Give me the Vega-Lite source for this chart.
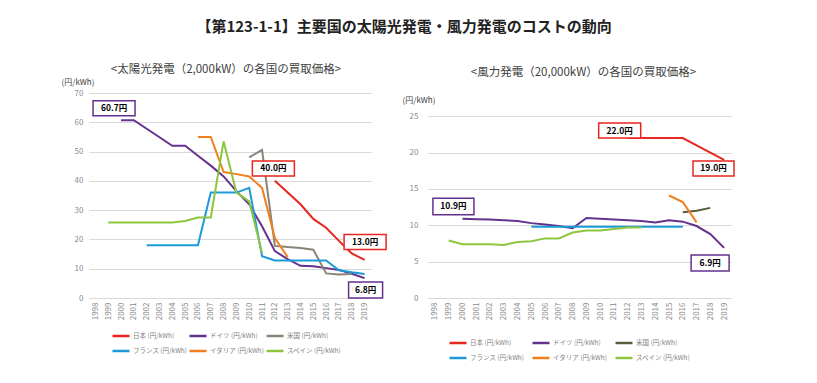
{
  "$schema": "https://vega.github.io/schema/vega-lite/v6.json",
  "background": "white",
  "padding": {"left": 61, "top": 19, "right": 0, "bottom": 0},
  "title": {"text": "【第123-1-1】主要国の太陽光発電・風力発電のコストの動向", "fontSize": 15, "fontWeight": "bold", "color": "#222222", "anchor": "middle", "offset": 29, "dx": 5},
  "config": {
    "font": "Noto Sans CJK JP",
    "view": {"stroke": null},
    "text": {"font": "Noto Sans CJK JP"}
  },
  "spacing": 12,
  "resolve": {"scale": {"color": "independent"}, "legend": {"color": "independent"}},
  "datasets": {
    "solar": [
      {"country": "日本", "year": 2012, "value": 40},
      {"country": "日本", "year": 2013, "value": 36},
      {"country": "日本", "year": 2014, "value": 32},
      {"country": "日本", "year": 2015, "value": 27},
      {"country": "日本", "year": 2016, "value": 24},
      {"country": "日本", "year": 2017, "value": 19.5},
      {"country": "日本", "year": 2018, "value": 15.2},
      {"country": "日本", "year": 2019, "value": 13},
      {"country": "ドイツ", "year": 2000, "value": 60.7},
      {"country": "ドイツ", "year": 2001, "value": 60.7},
      {"country": "ドイツ", "year": 2002, "value": 57.8},
      {"country": "ドイツ", "year": 2003, "value": 54.9},
      {"country": "ドイツ", "year": 2004, "value": 52},
      {"country": "ドイツ", "year": 2005, "value": 52},
      {"country": "ドイツ", "year": 2006, "value": 48.6},
      {"country": "ドイツ", "year": 2007, "value": 45.2},
      {"country": "ドイツ", "year": 2008, "value": 41.5},
      {"country": "ドイツ", "year": 2009, "value": 36.5},
      {"country": "ドイツ", "year": 2010, "value": 32},
      {"country": "ドイツ", "year": 2011, "value": 24.5},
      {"country": "ドイツ", "year": 2012, "value": 16},
      {"country": "ドイツ", "year": 2013, "value": 13.3},
      {"country": "ドイツ", "year": 2014, "value": 11},
      {"country": "ドイツ", "year": 2015, "value": 10.8},
      {"country": "ドイツ", "year": 2016, "value": 10.2},
      {"country": "ドイツ", "year": 2017, "value": 9.6},
      {"country": "ドイツ", "year": 2018, "value": 8.3},
      {"country": "ドイツ", "year": 2019, "value": 6.8},
      {"country": "米国", "year": 2010, "value": 48},
      {"country": "米国", "year": 2011, "value": 50.6},
      {"country": "米国", "year": 2012, "value": 17.8},
      {"country": "米国", "year": 2013, "value": 17.4},
      {"country": "米国", "year": 2014, "value": 17.1},
      {"country": "米国", "year": 2015, "value": 16.5},
      {"country": "米国", "year": 2016, "value": 8.4},
      {"country": "米国", "year": 2017, "value": 8.0},
      {"country": "米国", "year": 2018, "value": 8.2},
      {"country": "フランス", "year": 2002, "value": 18},
      {"country": "フランス", "year": 2003, "value": 18},
      {"country": "フランス", "year": 2004, "value": 18},
      {"country": "フランス", "year": 2005, "value": 18},
      {"country": "フランス", "year": 2006, "value": 18},
      {"country": "フランス", "year": 2007, "value": 36},
      {"country": "フランス", "year": 2008, "value": 36},
      {"country": "フランス", "year": 2009, "value": 36},
      {"country": "フランス", "year": 2010, "value": 37.6},
      {"country": "フランス", "year": 2011, "value": 14.3},
      {"country": "フランス", "year": 2012, "value": 12.8},
      {"country": "フランス", "year": 2013, "value": 12.8},
      {"country": "フランス", "year": 2014, "value": 12.8},
      {"country": "フランス", "year": 2015, "value": 12.8},
      {"country": "フランス", "year": 2016, "value": 12.8},
      {"country": "フランス", "year": 2017, "value": 9.5},
      {"country": "フランス", "year": 2018, "value": 8.8},
      {"country": "フランス", "year": 2019, "value": 8.2},
      {"country": "イタリア", "year": 2006, "value": 55},
      {"country": "イタリア", "year": 2007, "value": 55},
      {"country": "イタリア", "year": 2008, "value": 43},
      {"country": "イタリア", "year": 2009, "value": 42.3},
      {"country": "イタリア", "year": 2010, "value": 41.5},
      {"country": "イタリア", "year": 2011, "value": 37.6},
      {"country": "イタリア", "year": 2012, "value": 20.5},
      {"country": "イタリア", "year": 2013, "value": 14},
      {"country": "スペイン", "year": 1999, "value": 25.8},
      {"country": "スペイン", "year": 2000, "value": 25.8},
      {"country": "スペイン", "year": 2001, "value": 25.8},
      {"country": "スペイン", "year": 2002, "value": 25.8},
      {"country": "スペイン", "year": 2003, "value": 25.8},
      {"country": "スペイン", "year": 2004, "value": 25.8},
      {"country": "スペイン", "year": 2005, "value": 26.3},
      {"country": "スペイン", "year": 2006, "value": 27.5},
      {"country": "スペイン", "year": 2007, "value": 27.5},
      {"country": "スペイン", "year": 2008, "value": 53.5},
      {"country": "スペイン", "year": 2009, "value": 36},
      {"country": "スペイン", "year": 2010, "value": 33},
      {"country": "スペイン", "year": 2011, "value": 15.4}
    ],
    "wind": [
      {"country": "日本", "year": 2012, "value": 22},
      {"country": "日本", "year": 2013, "value": 22},
      {"country": "日本", "year": 2014, "value": 22},
      {"country": "日本", "year": 2015, "value": 22},
      {"country": "日本", "year": 2016, "value": 22},
      {"country": "日本", "year": 2017, "value": 21},
      {"country": "日本", "year": 2018, "value": 20},
      {"country": "日本", "year": 2019, "value": 19},
      {"country": "ドイツ", "year": 2000, "value": 10.9},
      {"country": "ドイツ", "year": 2001, "value": 10.85},
      {"country": "ドイツ", "year": 2002, "value": 10.8},
      {"country": "ドイツ", "year": 2003, "value": 10.7},
      {"country": "ドイツ", "year": 2004, "value": 10.6},
      {"country": "ドイツ", "year": 2005, "value": 10.3},
      {"country": "ドイツ", "year": 2006, "value": 10.1},
      {"country": "ドイツ", "year": 2007, "value": 9.9},
      {"country": "ドイツ", "year": 2008, "value": 9.6},
      {"country": "ドイツ", "year": 2009, "value": 11.0},
      {"country": "ドイツ", "year": 2010, "value": 10.9},
      {"country": "ドイツ", "year": 2011, "value": 10.8},
      {"country": "ドイツ", "year": 2012, "value": 10.7},
      {"country": "ドイツ", "year": 2013, "value": 10.6},
      {"country": "ドイツ", "year": 2014, "value": 10.4},
      {"country": "ドイツ", "year": 2015, "value": 10.7},
      {"country": "ドイツ", "year": 2016, "value": 10.5},
      {"country": "ドイツ", "year": 2017, "value": 9.9},
      {"country": "ドイツ", "year": 2018, "value": 8.8},
      {"country": "ドイツ", "year": 2019, "value": 6.9},
      {"country": "米国", "year": 2016, "value": 11.8},
      {"country": "米国", "year": 2017, "value": 12.0},
      {"country": "米国", "year": 2018, "value": 12.4},
      {"country": "フランス", "year": 2005, "value": 9.8},
      {"country": "フランス", "year": 2006, "value": 9.8},
      {"country": "フランス", "year": 2007, "value": 9.8},
      {"country": "フランス", "year": 2008, "value": 9.8},
      {"country": "フランス", "year": 2009, "value": 9.8},
      {"country": "フランス", "year": 2010, "value": 9.8},
      {"country": "フランス", "year": 2011, "value": 9.8},
      {"country": "フランス", "year": 2012, "value": 9.8},
      {"country": "フランス", "year": 2013, "value": 9.8},
      {"country": "フランス", "year": 2014, "value": 9.8},
      {"country": "フランス", "year": 2015, "value": 9.8},
      {"country": "フランス", "year": 2016, "value": 9.8},
      {"country": "イタリア", "year": 2015, "value": 14.1},
      {"country": "イタリア", "year": 2016, "value": 13.2},
      {"country": "イタリア", "year": 2017, "value": 10.4},
      {"country": "スペイン", "year": 1999, "value": 7.9},
      {"country": "スペイン", "year": 2000, "value": 7.4},
      {"country": "スペイン", "year": 2001, "value": 7.4},
      {"country": "スペイン", "year": 2002, "value": 7.4},
      {"country": "スペイン", "year": 2003, "value": 7.3},
      {"country": "スペイン", "year": 2004, "value": 7.7},
      {"country": "スペイン", "year": 2005, "value": 7.8},
      {"country": "スペイン", "year": 2006, "value": 8.2},
      {"country": "スペイン", "year": 2007, "value": 8.2},
      {"country": "スペイン", "year": 2008, "value": 9.0},
      {"country": "スペイン", "year": 2009, "value": 9.3},
      {"country": "スペイン", "year": 2010, "value": 9.3},
      {"country": "スペイン", "year": 2011, "value": 9.5},
      {"country": "スペイン", "year": 2012, "value": 9.7},
      {"country": "スペイン", "year": 2013, "value": 9.7}
    ],
    "solarLabels": [
      {"label": "60.7円", "year": 2000, "value": 60.7},
      {"label": "40.0円", "year": 2012, "value": 40.0},
      {"label": "13.0円", "year": 2019, "value": 13.0},
      {"label": "6.8円", "year": 2019, "value": 6.8}
    ],
    "windLabels": [
      {"label": "10.9円", "year": 2000, "value": 10.9},
      {"label": "22.0円", "year": 2012, "value": 22.0},
      {"label": "19.0円", "year": 2019, "value": 19.0},
      {"label": "6.9円", "year": 2019, "value": 6.9}
    ]
  },
  "hconcat": [
    {
      "width": 282,
      "height": 205,
      "title": {"text": "<太陽光発電（2,000kW）の各国の買取価格>", "fontSize": 11.5, "fontWeight": "normal", "color": "#404040", "frame": "group", "anchor": "middle", "dx": -4, "offset": 3},
      "encoding": {
        "x": {"field": "year", "type": "quantitative", "scale": {"domain": [1997.5, 2019.5], "nice": false, "zero": false},
          "axis": {"values": [1998,1999,2000,2001,2002,2003,2004,2005,2006,2007,2008,2009,2010,2011,2012,2013,2014,2015,2016,2017,2018,2019], "format": "d", "labelAngle": -90, "labelFontSize": 8, "labelColor": "#8c8c8c", "ticks": false, "grid": false, "domain": true, "domainColor": "#d9d9d9", "title": null, "labelPadding": 4, "labelOverlap": false, "labelFlush": false}},
        "y": {"field": "value", "type": "quantitative", "scale": {"domain": [0, 70], "nice": false},
          "axis": {"values": [0,10,20,30,40,50,60,70], "grid": true, "gridColor": "#d9d9d9", "domain": false, "ticks": false, "labelFontSize": 8, "labelColor": "#8c8c8c", "labelPadding": 6, "title": "(円/kWh)", "titleFontSize": 8, "titleFontWeight": "normal", "titleColor": "#404040", "titleAngle": 0, "titleX": -11.5, "titleY": -11, "titleAlign": "center", "titleBaseline": "middle"}}
      },
      "layer": [
        {
          "data": {"name": "solar"},
          "mark": {"type": "line", "strokeWidth": 2},
          "encoding": {
            "color": {"field": "country", "type": "nominal",
              "scale": {"domain": ["日本", "ドイツ", "米国", "フランス", "イタリア", "スペイン"], "range": ["#E8251F", "#65318E", "#8A8478", "#1A9BD7", "#F07F1E", "#8DC63F"]},
              "legend": {"orient": "none", "legendX": 22, "legendY": 233, "direction": "horizontal", "columns": 3, "title": null, "symbolType": "stroke", "symbolSize": 289, "symbolStrokeWidth": 2.5, "labelFontSize": 6.5, "labelColor": "#7f7f7f", "labelOffset": 2, "columnPadding": -4, "rowPadding": -1, "padding": 0, "gridAlign": "all", "labelExpr": "datum.label + ' (円/kWh)'"}}
          }
        },
        {
          "data": {"name": "solarLabels"},
          "transform": [{"filter": "datum.label === '60.7円'"}],
          "layer": [
            {"mark": {"type": "point", "shape": "M-1,-0.357H1V0.357H-1Z", "size": 1764, "filled": true, "fill": "white", "stroke": "#65318E", "strokeWidth": 1.5, "opacity": 1, "xOffset": -7, "yOffset": -12}},
            {"mark": {"type": "text", "fontWeight": "bold", "fontSize": 8.5, "color": "#000000", "xOffset": -7, "yOffset": -12}, "encoding": {"text": {"field": "label"}}}
          ]
        },
        {
          "data": {"name": "solarLabels"},
          "transform": [{"filter": "datum.label === '40.0円'"}],
          "layer": [
            {"mark": {"type": "point", "shape": "M-1,-0.357H1V0.357H-1Z", "size": 1764, "filled": true, "fill": "white", "stroke": "#E8251F", "strokeWidth": 1.5, "opacity": 1, "xOffset": -1.5, "yOffset": -12.4}},
            {"mark": {"type": "text", "fontWeight": "bold", "fontSize": 8.5, "color": "#000000", "xOffset": -1.5, "yOffset": -12.4}, "encoding": {"text": {"field": "label"}}}
          ]
        },
        {
          "data": {"name": "solarLabels"},
          "transform": [{"filter": "datum.label === '13.0円'"}],
          "layer": [
            {"mark": {"type": "point", "shape": "M-1,-0.357H1V0.357H-1Z", "size": 1764, "filled": true, "fill": "white", "stroke": "#E8251F", "strokeWidth": 1.5, "opacity": 1, "xOffset": 0.5, "yOffset": -18}},
            {"mark": {"type": "text", "fontWeight": "bold", "fontSize": 8.5, "color": "#000000", "xOffset": 0.5, "yOffset": -18}, "encoding": {"text": {"field": "label"}}}
          ]
        },
        {
          "data": {"name": "solarLabels"},
          "transform": [{"filter": "datum.label === '6.8円'"}],
          "layer": [
            {"mark": {"type": "point", "shape": "M-1,-0.47H1V0.47H-1Z", "size": 1156, "filled": true, "fill": "white", "stroke": "#65318E", "strokeWidth": 1.5, "opacity": 1, "xOffset": 1, "yOffset": 12}},
            {"mark": {"type": "text", "fontWeight": "bold", "fontSize": 8.5, "color": "#000000", "xOffset": 1, "yOffset": 12}, "encoding": {"text": {"field": "label"}}}
          ]
        }
      ]
    },
    {
      "width": 303,
      "height": 205,
      "title": {"text": "<風力発電（20,000kW）の各国の買取価格>", "fontSize": 11.5, "fontWeight": "normal", "color": "#404040", "frame": "group", "anchor": "middle", "dx": 4, "offset": 15},
      "encoding": {
        "x": {"field": "year", "type": "quantitative", "scale": {"domain": [1997.5, 2019.5], "nice": false, "zero": false},
          "axis": {"values": [1998,1999,2000,2001,2002,2003,2004,2005,2006,2007,2008,2009,2010,2011,2012,2013,2014,2015,2016,2017,2018,2019], "format": "d", "labelAngle": -90, "labelFontSize": 8, "labelColor": "#8c8c8c", "ticks": false, "grid": false, "domain": true, "domainColor": "#d9d9d9", "title": null, "labelPadding": 4, "labelOverlap": false, "labelFlush": false}},
        "y": {"field": "value", "type": "quantitative", "scale": {"domain": [0, 28.2], "nice": false},
          "axis": {"values": [0,5,10,15,20,25], "grid": true, "gridColor": "#d9d9d9", "domain": false, "ticks": false, "labelFontSize": 8, "labelColor": "#8c8c8c", "labelPadding": 10, "title": "(円/kWh)", "titleFontSize": 8, "titleFontWeight": "normal", "titleColor": "#404040", "titleAngle": 0, "titleX": -9.5, "titleY": 7.5, "titleAlign": "center", "titleBaseline": "middle"}}
      },
      "layer": [
        {
          "data": {"name": "wind"},
          "mark": {"type": "line", "strokeWidth": 2},
          "encoding": {
            "color": {"field": "country", "type": "nominal",
              "scale": {"domain": ["日本", "ドイツ", "米国", "フランス", "イタリア", "スペイン"], "range": ["#E8251F", "#65318E", "#5C5A3C", "#1A9BD7", "#F07F1E", "#8DC63F"]},
              "legend": {"orient": "none", "legendX": 20, "legendY": 240, "direction": "horizontal", "columns": 3, "title": null, "symbolType": "stroke", "symbolSize": 289, "symbolStrokeWidth": 2.5, "labelFontSize": 6.5, "labelColor": "#7f7f7f", "labelOffset": 2, "columnPadding": 2, "rowPadding": -6, "padding": 0, "gridAlign": "all", "labelExpr": "datum.label + ' (円/kWh)'"}}
          }
        },
        {
          "data": {"name": "windLabels"},
          "transform": [{"filter": "datum.label === '10.9円'"}],
          "layer": [
            {"mark": {"type": "point", "shape": "M-1,-0.4H1V0.4H-1Z", "size": 1681, "filled": true, "fill": "white", "stroke": "#65318E", "strokeWidth": 1.5, "opacity": 1, "xOffset": -9, "yOffset": -12.3}},
            {"mark": {"type": "text", "fontWeight": "bold", "fontSize": 8.5, "color": "#000000", "xOffset": -9, "yOffset": -12.3}, "encoding": {"text": {"field": "label"}}}
          ]
        },
        {
          "data": {"name": "windLabels"},
          "transform": [{"filter": "datum.label === '22.0円'"}],
          "layer": [
            {"mark": {"type": "point", "shape": "M-1,-0.357H1V0.357H-1Z", "size": 1764, "filled": true, "fill": "white", "stroke": "#E8251F", "strokeWidth": 1.5, "opacity": 1, "xOffset": -8, "yOffset": -7.5}},
            {"mark": {"type": "text", "fontWeight": "bold", "fontSize": 8.5, "color": "#000000", "xOffset": -8, "yOffset": -7.5}, "encoding": {"text": {"field": "label"}}}
          ]
        },
        {
          "data": {"name": "windLabels"},
          "transform": [{"filter": "datum.label === '19.0円'"}],
          "layer": [
            {"mark": {"type": "point", "shape": "M-1,-0.366H1V0.366H-1Z", "size": 1681, "filled": true, "fill": "white", "stroke": "#E8251F", "strokeWidth": 1.5, "opacity": 1, "xOffset": -10.6, "yOffset": 8.6}},
            {"mark": {"type": "text", "fontWeight": "bold", "fontSize": 8.5, "color": "#000000", "xOffset": -10.6, "yOffset": 8.6}, "encoding": {"text": {"field": "label"}}}
          ]
        },
        {
          "data": {"name": "windLabels"},
          "transform": [{"filter": "datum.label === '6.9円'"}],
          "layer": [
            {"mark": {"type": "point", "shape": "M-1,-0.42H1V0.42H-1Z", "size": 1444, "filled": true, "fill": "white", "stroke": "#65318E", "strokeWidth": 1.5, "opacity": 1, "xOffset": -14, "yOffset": 15.2}},
            {"mark": {"type": "text", "fontWeight": "bold", "fontSize": 8.5, "color": "#000000", "xOffset": -14, "yOffset": 15.2}, "encoding": {"text": {"field": "label"}}}
          ]
        }
      ]
    }
  ]
}
